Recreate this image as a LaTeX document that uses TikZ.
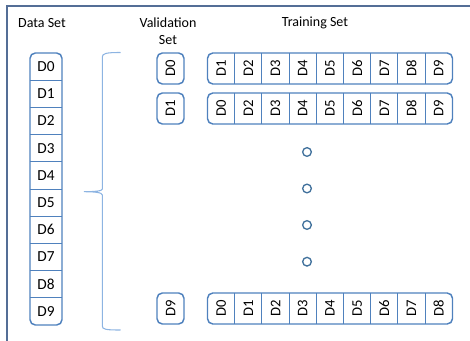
\documentclass[tikz,border=0pt]{standalone}
\usepackage{fontspec}
\setmainfont{Carlito}
\definecolor{boxblue}{RGB}{79,129,189}
\definecolor{framegray}{RGB}{84,110,150}
\definecolor{bracelight}{RGB}{141,180,226}
\definecolor{dotblue}{RGB}{65,113,156}
\begin{document}
\begin{tikzpicture}[x=0.75pt,y=-0.75pt,font=\fontsize{10.5}{13}\selectfont,
  box/.style={draw=boxblue,line width=1.1pt,rounded corners=4pt},
  sep/.style={draw=boxblue,line width=0.7pt},
  cell/.style={inner sep=0pt,text=black,font=\fontsize{11.5}{13}\selectfont},
  vcell/.style={cell,rotate=90,font=\fontsize{11}{13}\selectfont},
  dot/.style={circle,draw=dotblue,line width=1pt,inner sep=0pt,minimum size=6.5pt}]
\useasboundingbox (0,0) rectangle (470,341);
\draw[framegray,line width=1.5pt] (7,341) -- (7,6) -- (470,6); % frame
\node (dataset) at (42,23) {Data Set};
\node[align=center] (valset) at (168,31) {Validation\\Set};
\node (trainset) at (315,23) {Training Set};
% data set column
\draw[box] (30,53) rectangle (62,325);
\foreach \i in {1,...,9}
\draw[sep] (30,{53+27.2*\i}) -- (62,{53+27.2*\i});
\foreach \i in {0,...,9}
\node[cell] (d\i) at (46,{66.6+27.2*\i}) {D\i};
% brace
\draw[bracelight,line width=0.8pt] (120.5,52.5) .. controls (106,52.5) and (102.3,53.5) .. (102.3,57)
  -- (102.3,189) .. controls (102.3,191) and (95,191.7) .. (84,191.7)
  .. controls (95,191.7) and (102.3,192.5) .. (102.3,195)
  -- (102.3,326) .. controls (102.3,329.5) and (106,330) .. (120.5,330);
% folds: top y / validation part
\foreach \y/\v in {53/0,93/1,293/9}{
  \draw[box] (157,\y) rectangle (184,{\y+31});
  \node[vcell] (v\v) at (170.5,{\y+15.5}) {D\v};
  \draw[box] (207.5,\y) rectangle (452.5,{\y+31});
  \foreach \j in {1,...,8}
  \draw[sep] ({207.5+27.2*\j},\y) -- ({207.5+27.2*\j},{\y+31});
  \foreach \k in {0,...,8}{
    \pgfmathtruncatemacro\lab{\k<\v ? \k : \k+1}
    \node[vcell] (t\v-\k) at ({221.1+27.2*\k},{\y+15.5}) {D\lab};
  }
}
\foreach \y [count=\n] in {152,188.5,225,261.7}
\node[dot] (dot\n) at (307,\y) {};
\end{tikzpicture}
\end{document}
